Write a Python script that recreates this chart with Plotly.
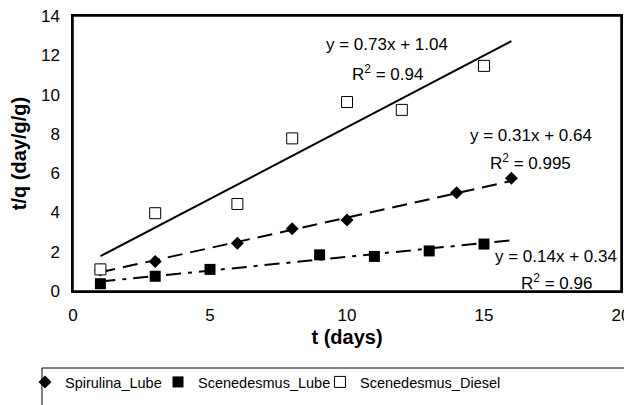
import plotly.graph_objects as go

# ---- data ----
spir_x = [1, 3, 6, 8, 10, 14, 16]
spir_y = [1.07, 1.5, 2.43, 3.17, 3.61, 5.0, 5.74]

scl_x = [1, 3, 5, 9, 11, 13, 15]
scl_y = [0.37, 0.75, 1.1, 1.84, 1.76, 2.04, 2.39]

scd_x = [1, 3, 6, 8, 10, 12, 15]
scd_y = [1.1, 3.96, 4.43, 7.77, 9.62, 9.22, 11.46]

names = ["Spirulina_Lube", "Scenedesmus_Lube", "Scenedesmus_Diesel"]
slopes = [0.31, 0.14, 0.73]
intercepts = [0.64, 0.34, 1.04]
r2_labels = ["0.995", "0.96", "0.94"]
trend_x = [1, 16]

x_ticks = [0, 5, 10, 15, 20]
y_ticks = [0, 2, 4, 6, 8, 10, 12, 14]

FONT = "Liberation Sans, Arial, sans-serif"

fig = go.Figure()

# trendlines
dashes = ["15px,8px", "15px,7px,4px,7px", "solid"]
for m, b, d in zip(slopes, intercepts, dashes):
    fig.add_trace(go.Scatter(
        x=trend_x, y=[m * xx + b for xx in trend_x], mode="lines",
        line=dict(color="black", width=2, dash=d), showlegend=False, hoverinfo="skip"))

# data series (each in its own legend so entries can be placed like the reference)
fig.add_trace(go.Scatter(x=spir_x, y=spir_y, mode="markers", name=names[0], legend="legend",
                         marker=dict(symbol="diamond", size=10, color="black")))
fig.add_trace(go.Scatter(x=scl_x, y=scl_y, mode="markers", name=names[1], legend="legend2",
                         marker=dict(symbol="square", size=11, color="black")))
fig.add_trace(go.Scatter(x=scd_x, y=scd_y, mode="markers", name=names[2], legend="legend3",
                         marker=dict(symbol="square", size=11, color="white",
                                     line=dict(color="black", width=1))))

# equation labels
ann_pos = [(16.7, 7.94, 6.57), (17.63, 1.78, 0.47), (11.46, 12.53, 11.1)]
for (ax, ye, yr), m, b, r2 in zip(ann_pos, slopes, intercepts, r2_labels):
    fig.add_annotation(x=ax, y=ye, text=f"y = {m}x + {b}", showarrow=False,
                       font=dict(size=17, color="black", family=FONT))
    fig.add_annotation(x=ax, y=yr, text=f"R<sup>2</sup> = {r2}", showarrow=False,
                       font=dict(size=17, color="black", family=FONT))

# the page adds an 8px body margin, so margins are shifted by 8px
leg_common = dict(orientation="h", y=-0.2727, xanchor="left", yanchor="top",
                  bgcolor="rgba(0,0,0,0)", borderwidth=0, font=dict(size=14.5),
                  itemwidth=30)
fig.update_layout(
    width=632, height=405,
    margin=dict(l=65, r=19, t=8, b=122, autoexpand=False),
    paper_bgcolor="white", plot_bgcolor="white",
    font=dict(family=FONT, color="black", size=17),
    legend=dict(x=-0.0876, **leg_common),
    legend2=dict(x=0.1551, **leg_common),
    legend3=dict(x=0.4507, **leg_common),
    showlegend=True,
)
# plot frame and legend frame (legend frame runs past the bottom edge as in the reference)
fig.add_shape(type="rect", xref="paper", yref="paper", x0=0, x1=1, y0=0, y1=1,
              line=dict(color="black", width=1.5), layer="above")
fig.add_shape(type="rect", xref="paper", yref="paper", x0=-0.0566, x1=1.0073,
              y0=-0.43, y1=-0.28, line=dict(color="black", width=1))

fig.update_xaxes(range=[0, 20], tickvals=x_ticks, showgrid=False, zeroline=False,
                 showline=True, linecolor="black", linewidth=1.5, mirror=True,
                 ticks="", ticklabelstandoff=8, automargin=False, ticklabeloverflow="allow",
                 title=dict(text="<b>t (days)</b>", font=dict(size=20), standoff=6))
fig.update_yaxes(range=[0, 14], tickvals=y_ticks, showgrid=False, zeroline=False,
                 showline=True, linecolor="black", linewidth=1.5, mirror=True,
                 ticks="", ticklabelstandoff=8, automargin=False, ticklabeloverflow="allow",
                 title=dict(text="<b>t/q (day/g/g)</b>", font=dict(size=20), standoff=12))

fig.write_html("out.html")
